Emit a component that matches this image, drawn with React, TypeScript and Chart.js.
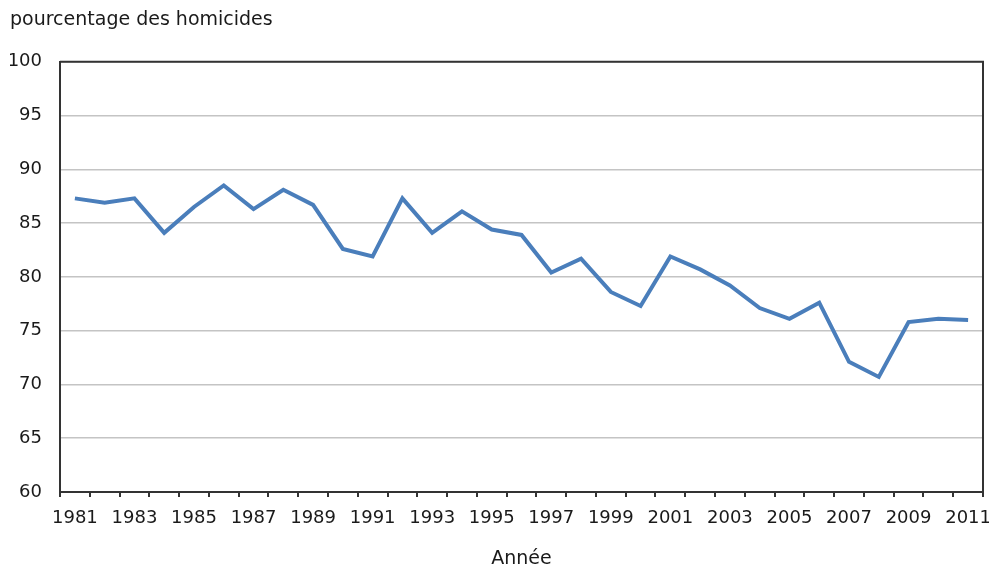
import React, { useEffect, useRef } from "react";
import { Chart, registerables } from "chart.js";

Chart.register(...registerables);

const years: string[] = [
  "1981", "1982", "1983", "1984", "1985", "1986", "1987", "1988", "1989", "1990",
  "1991", "1992", "1993", "1994", "1995", "1996", "1997", "1998", "1999", "2000",
  "2001", "2002", "2003", "2004", "2005", "2006", "2007", "2008", "2009", "2010", "2011",
];

const pourcentage: number[] = [
  87.3, 86.9, 87.3, 84.1, 86.5, 88.5, 86.3, 88.1, 86.7, 82.6,
  81.9, 87.3, 84.1, 86.1, 84.4, 83.9, 80.4, 81.7, 78.6, 77.3,
  81.9, 80.7, 79.2, 77.1, 76.1, 77.6, 72.1, 70.7, 75.8, 76.1, 76.0,
];

const yMin = 60;
const yMax = 100;
const yStep = 5;

const titleText = "pourcentage des homicides";
const xTitleText = "Année";

const FONT = "'DejaVu Sans', Verdana, sans-serif";
const TEXT = "#1a1a1a";
const AXIS = "#333333";

const frame = {
  id: "frame",
  afterDraw(chart: any) {
    const { ctx, chartArea } = chart;
    ctx.save();
    ctx.strokeStyle = AXIS;
    ctx.lineWidth = 2;
    ctx.beginPath();
    ctx.moveTo(chartArea.left, chartArea.top);
    ctx.lineTo(chartArea.right, chartArea.top);
    ctx.lineTo(chartArea.right, chartArea.bottom);
    ctx.stroke();
    ctx.restore();
  },
};

export default function App() {
  const ref = useRef<HTMLCanvasElement | null>(null);

  useEffect(() => {
    if (!ref.current) return;
    const chart = new Chart(ref.current, {
      type: "line",
      data: {
        labels: years,
        datasets: [
          {
            data: pourcentage,
            borderColor: "#4a7ebb",
            borderWidth: 4,
            pointRadius: 0,
            tension: 0,
            fill: false,
          },
        ],
      },
      plugins: [frame],
      options: {
        animation: false,
        responsive: false,
        maintainAspectRatio: false,
        layout: { padding: { left: 10, right: 6, top: 0, bottom: 0 } },
        plugins: {
          legend: { display: false },
          tooltip: { enabled: false },
          title: {
            display: true,
            text: titleText,
            align: "start",
            color: TEXT,
            font: { family: FONT, size: 19, weight: "normal" },
            padding: { top: 9, bottom: 30 },
          },
        },
        scales: {
          x: {
            type: "category",
            offset: true,
            grid: {
              offset: true,
              drawOnChartArea: false,
              drawTicks: true,
              tickLength: 5,
              color: AXIS,
              lineWidth: 2,
            },
            border: { display: true, color: AXIS, width: 2 },
            ticks: {
              autoSkip: false,
              maxRotation: 0,
              minRotation: 0,
              padding: 11,
              color: TEXT,
              font: { family: FONT, size: 18 },
              callback: (_v: any, i: number) => (i % 2 === 0 ? years[i] : ""),
            },
            title: {
              display: true,
              text: xTitleText,
              color: TEXT,
              font: { family: FONT, size: 19 },
              padding: { top: 10, bottom: -4 },
            },
            afterFit: (scale: any) => {
              scale.height = 74;
              scale.paddingLeft = 0;
              scale.paddingRight = 0;
            },
          },
          y: {
            min: yMin,
            max: yMax,
            grid: {
              drawTicks: false,
              color: "#c4c4c4",
              lineWidth: 1.5,
            },
            border: { display: true, color: AXIS, width: 2 },
            ticks: {
              stepSize: yStep,
              padding: 18,
              color: TEXT,
              font: { family: FONT, size: 18 },
            },
            afterFit: (scale: any) => {
              scale.width = 50;
            },
          },
        },
      },
    });
    return () => chart.destroy();
  }, []);

  return (
    <div style={{ position: "absolute", left: 0, top: 0, width: 989, height: 566, background: "#fff" }}>
      <canvas ref={ref} width={989} height={566} style={{ display: "block", width: 989, height: 566 }} />
    </div>
  );
}
